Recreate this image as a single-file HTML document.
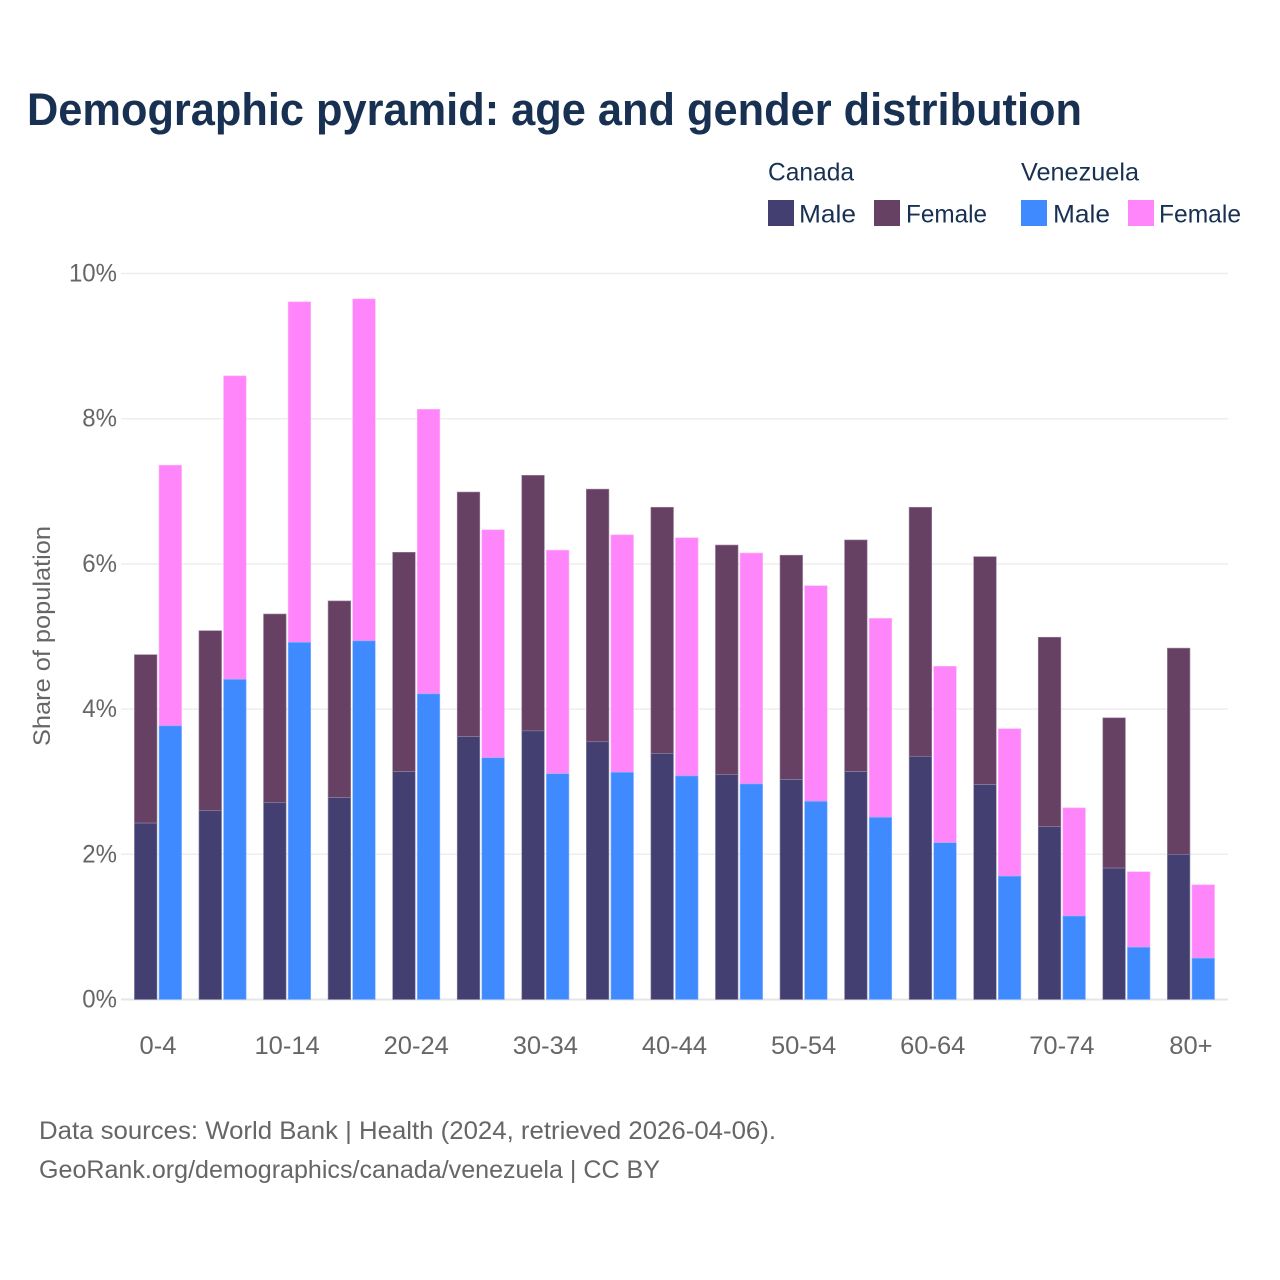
<!DOCTYPE html>
<html lang="en">
<head>
<meta charset="utf-8">
<title>Demographic pyramid: age and gender distribution</title>
<style>
html,body{margin:0;padding:0;background:#fff;width:1280px;height:1280px;overflow:hidden}
svg{display:block}
text{font-family:"Liberation Sans",sans-serif}
</style>
</head>
<body>
<svg id="chart" width="1280" height="1280" viewBox="0 0 1280 1280" xmlns="http://www.w3.org/2000/svg">
  <text x="27" y="125" font-size="45" font-weight="700" fill="#183153" textLength="1055" lengthAdjust="spacingAndGlyphs">Demographic pyramid: age and gender distribution</text>
  <g>
    <text x="768" y="180.5" font-size="25" fill="#183153" textLength="86" lengthAdjust="spacingAndGlyphs">Canada</text>
    <text x="1021" y="180.5" font-size="25" fill="#183153" textLength="118" lengthAdjust="spacingAndGlyphs">Venezuela</text>
    <rect x="768" y="200" width="26" height="26" fill="#433F71"/>
    <text x="799" y="222.5" font-size="25" fill="#183153" textLength="57" lengthAdjust="spacingAndGlyphs">Male</text>
    <rect x="874" y="200" width="26" height="26" fill="#674163"/>
    <text x="906" y="222.5" font-size="25" fill="#183153" textLength="81" lengthAdjust="spacingAndGlyphs">Female</text>
    <rect x="1021" y="200" width="26" height="26" fill="#408AFF"/>
    <text x="1053" y="222.5" font-size="25" fill="#183153" textLength="57" lengthAdjust="spacingAndGlyphs">Male</text>
    <rect x="1128" y="200" width="26" height="26" fill="#FF85FA"/>
    <text x="1159" y="222.5" font-size="25" fill="#183153" textLength="82" lengthAdjust="spacingAndGlyphs">Female</text>
  </g>
  <g id="grid"></g>
  <g id="yticks"></g>
  <g id="bars"></g>
  <g id="xticks"></g>
  <text transform="translate(50,636) rotate(-90)" text-anchor="middle" font-size="24" fill="#666" textLength="220" lengthAdjust="spacingAndGlyphs">Share of population</text>
  <text x="39" y="1139" font-size="25" fill="#666" textLength="737" lengthAdjust="spacingAndGlyphs">Data sources: World Bank | Health (2024, retrieved 2026-04-06).</text>
  <text x="39" y="1178" font-size="25" fill="#666" textLength="621" lengthAdjust="spacingAndGlyphs">GeoRank.org/demographics/canada/venezuela | CC BY</text>
</svg>
<script>
const categories = ["0-4","5-9","10-14","15-19","20-24","25-29","30-34","35-39","40-44","45-49","50-54","55-59","60-64","65-69","70-74","75-79","80+"];
const xTickLabels = ["0-4","","10-14","","20-24","","30-34","","40-44","","50-54","","60-64","","70-74","","80+"];
const yTicks = [0,2,4,6,8,10];
const canadaMale = [2.43,2.60,2.71,2.78,3.14,3.62,3.70,3.55,3.39,3.10,3.03,3.14,3.35,2.96,2.38,1.81,2.00];
const canadaFemale = [2.32,2.48,2.60,2.71,3.02,3.37,3.52,3.48,3.39,3.16,3.09,3.19,3.43,3.14,2.61,2.07,2.84];
const venezuelaMale = [3.77,4.41,4.92,4.94,4.21,3.33,3.11,3.13,3.08,2.97,2.73,2.51,2.16,1.70,1.15,0.72,0.57];
const venezuelaFemale = [3.59,4.18,4.69,4.71,3.92,3.14,3.08,3.27,3.28,3.18,2.97,2.74,2.43,2.03,1.49,1.04,1.01];

const NS = "http://www.w3.org/2000/svg";
const yScale = v => 999.5 - v * 72.6;
const xCenter = i => 158 + i * 64.56;
const BAR_W = 22.6;
const GAP = 2;

function make(tag, attrs, parent, txt) {
  const el = document.createElementNS(NS, tag);
  for (const k in attrs) el.setAttribute(k, attrs[k]);
  if (txt !== undefined) el.textContent = txt;
  parent.appendChild(el);
  return el;
}

const gridG = document.getElementById("grid");
const yG = document.getElementById("yticks");
yTicks.forEach(t => {
  const y = yScale(t);
  const line = make("line", {x1:121, x2:1228, y1:y, y2:y, stroke: t === 0 ? "#e6e6e6" : "#eeeeee", "stroke-width": t === 0 ? 2 : 1.5}, gridG);
  
  
  const label = make("text", {x:117, y:y + 8, "text-anchor":"end", "font-size":25, fill:"#666"}, yG, t + "%");
  label.setAttribute('textLength', label.getComputedTextLength() * 0.96);
  label.setAttribute('lengthAdjust', 'spacingAndGlyphs');
  
  
});

const barsG = document.getElementById("bars");
function drawBar(x, base, value, fill, stroke) {
  const top = yScale(base + value);
  const r = make("rect", {x:x, y:top, width:BAR_W, height:yScale(base) - top, fill:fill, stroke:stroke, "stroke-width":0.6}, barsG);
  
  
}
categories.forEach((c, i) => {
  const cx = xCenter(i);
  const leftX = cx - GAP / 2 - BAR_W;
  const rightX = cx + GAP / 2;
  drawBar(leftX, canadaMale[i], canadaFemale[i], "#674163", "#9d84a0");
  drawBar(leftX, 0, canadaMale[i], "#433F71", "#8d8bab");
  drawBar(rightX, venezuelaMale[i], venezuelaFemale[i], "#FF85FA", "#ffb6fb");
  drawBar(rightX, 0, venezuelaMale[i], "#408AFF", "#8ab8ff");
});

const xG = document.getElementById("xticks");
xTickLabels.forEach((t, i) => {
  if (!t) return;
  const label = make("text", {x:xCenter(i), y:1054, "text-anchor":"middle", "font-size":25, fill:"#666"}, xG, t);
  label.setAttribute('textLength', label.getComputedTextLength() * 1.02);
  label.setAttribute('lengthAdjust', 'spacingAndGlyphs');
  
  
});
</script>
</body>
</html>
